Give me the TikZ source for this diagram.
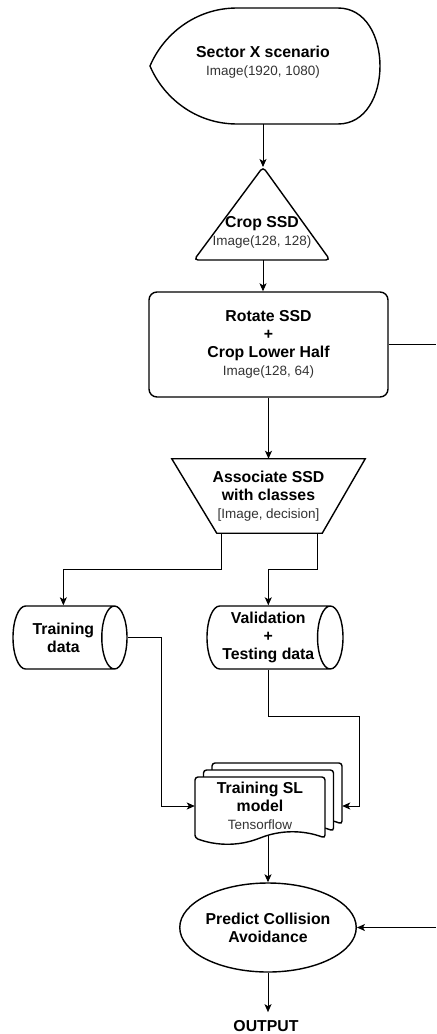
\documentclass[tikz,border=0pt]{standalone}
\usepackage{fontspec}
\setmainfont{Liberation Sans}
\usetikzlibrary{positioning,shapes.geometric,arrows.meta}

\newlength\pxu
\setlength\pxu{0.03cm}
\newcommand{\bigtxt}{\fontsize{13.5}{15.4}\selectfont\bfseries}
\newcommand{\smalltxt}[1]{{\fontsize{11.5}{15.4}\selectfont\mdseries\color{black!80}#1}}

\tikzset{
  txt/.style={align=center, font=\bigtxt, inner sep=0pt},
  outline/.style={line width=1.2pt},
  box/.style={txt, draw, outline},
  cyl/.style={txt, draw, outline, cylinder, anchor=shape center},
  arr/.style={-{Stealth[length=0.24cm,width=0.21cm,inset=0.06cm]}, line width=0.8pt},
  wire/.style={line width=0.8pt},
}

\begin{document}
\begin{tikzpicture}[x=1\pxu, y=-1\pxu]
 \useasboundingbox (0,0) rectangle (436,1034);

 % input scenario
 \draw[outline] (237,8) -- (338,8) .. controls (394,8) and (394,124) .. (338,124)
   -- (237,124) .. controls (195,124) and (163,97) .. (150,66)
   .. controls (163,35) and (195,8) .. (237,8) -- cycle;
 \node[txt, minimum height=124\pxu] (scenario) at (263,62)
   {Sector X scenario\\\smalltxt{Image(1920, 1080)}};

 % crop
 \coordinate (croptop) at (263,167);
 \coordinate (cropbase) at (263,260);
 \draw[outline, rounded corners=4\pxu] (croptop) -- (330,260) -- (194,260) -- cycle;
 \node[txt] (crop) at (262,232) {Crop SSD\\\smalltxt{Image(128, 128)}};

 \node[box, rounded corners=8\pxu, minimum width=239\pxu, minimum height=105\pxu]
   (rotbox) at (268.5,344.5)
   {Rotate SSD\\+\\Crop Lower Half\\\smalltxt{Image(128, 64)}};

 % classes
 \node[txt, minimum width=193\pxu, minimum height=74\pxu] (assoc) at (268.5,496)
   {Associate SSD\\with classes\\\smalltxt{[Image, decision]}};
 \draw[outline] (assoc.north west) -- (assoc.north east)
   -- ([xshift=-43\pxu]assoc.south east) -- ([xshift=45\pxu]assoc.south west) -- cycle;

 \node[cyl, minimum height=114\pxu, minimum width=63\pxu, shape aspect=0.85]
   (traindata) at (70,637.5) {Training\\data};
 \node[cyl, minimum height=136\pxu, minimum width=63\pxu, shape aspect=0.5]
   (validdata) at (275,637.5) {Validation\\+\\\makebox[70\pxu]{Testing data}};

 % stacked documents
 \foreach \d in {2,1,0} {
  \begin{scope}[shift={({8.5*\d},{-7*\d})}]
   \draw[outline, fill=white, rounded corners=3\pxu] (195,838) -- (195,777) -- (325,777)
     -- (325,838) .. controls (303.3,830) and (281.7,830) .. (260,838)
     .. controls (238.3,846) and (216.7,846) .. (195,838) -- cycle;
  \end{scope}
 }
 \node[txt, minimum width=130\pxu, minimum height=58\pxu] (model) at (260,806)
   {Training SL\\model\\\smalltxt{Tensorflow}};

 \node[box, ellipse, minimum width=174\pxu, minimum height=89\pxu] (predict)
   at (268,927.5) {Predict Collision\\Avoidance};
 \node[txt, inner sep=8\pxu] (output) at (266,1026) {OUTPUT};

 \coordinate (edgeA) at (436,344.5);
 \coordinate (edgeB) at (436,927.5);

 \draw[arr] (scenario.south) -- (croptop);
 \draw[arr] (cropbase) -- (cropbase |- rotbox.north);
 \draw[wire] (rotbox.east) -- (edgeA);
 \draw[arr] (rotbox.south) -- (assoc.north);
 \draw[arr] ([xshift=-47.5\pxu]assoc.south) -- ++(0,36) -| (traindata.north);
 \draw[arr] ([xshift=48.5\pxu]assoc.south) -- ++(0,36) -| (validdata.north);
 \draw[arr] (traindata.east) -- ++(34,0) |- (model.west);
 \draw[arr] (validdata.south) -- ++(0,47) -- ++(91,0) |- ([xshift=17\pxu]model.east);
 \draw[arr] ([xshift=8\pxu]model.south) -- (predict.north);
 \draw[arr] (edgeB) -- (predict.east);
 \draw[arr] (predict.south) -- (predict.south |- output.north);
\end{tikzpicture}
\end{document}
